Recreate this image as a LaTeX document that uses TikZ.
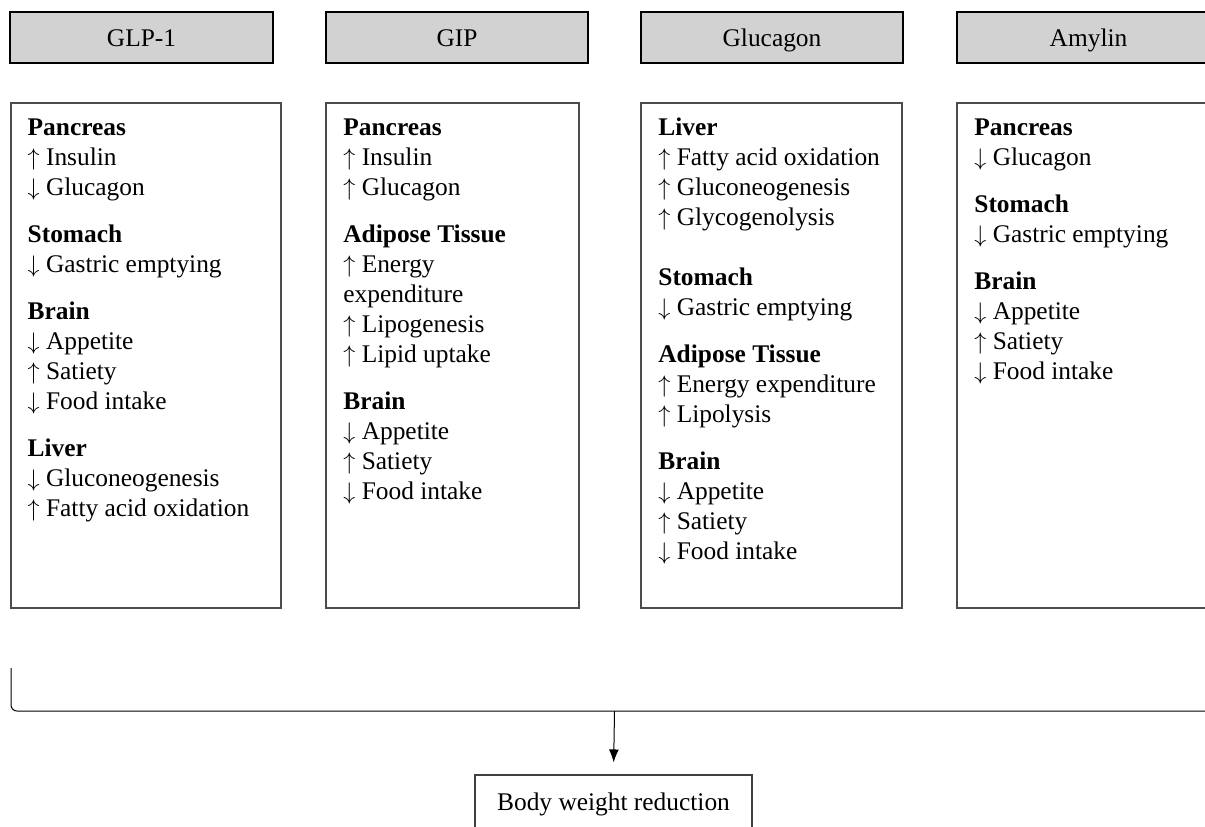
\documentclass[tikz,border=0pt]{standalone}
\usepackage{fontspec}
\setmainfont{Liberation Serif}
\usetikzlibrary{arrows.meta}
\newcommand{\uarr}{$\uparrow$}
\newcommand{\darr}{$\downarrow$}
\begin{document}
\begin{tikzpicture}[x=0.5pt,y=-0.5pt,
  hdr/.style={draw=black, line width=0.75pt, fill=gray!35, inner sep=0pt,
    minimum height=25.5pt, text height=8.5pt, text depth=0pt,
    font=\fontsize{12.7}{15}\selectfont},
  cbox/.style={draw=black!70, line width=0.55pt, inner sep=0pt, minimum height=252.5pt},
  txt/.style={inner sep=0pt, anchor=base west, font=\fontsize{12.7}{15}\selectfont},
  res/.style={draw=black!75, line width=0.55pt, inner sep=0pt, minimum width=138.5pt,
    minimum height=26.5pt, text height=8.5pt, text depth=0pt,
    font=\fontsize{12.7}{15}\selectfont},
  conn/.style={line width=0.5pt, black}
]
\useasboundingbox (0,0) rectangle (1205,826);

% header boxes
\node[hdr, minimum width=131.5pt] (h1) at (141.5,37.5) {GLP-1};
\node[hdr, minimum width=131pt]   (h2) at (457,37.5) {GIP};
\node[hdr, minimum width=131pt]   (h3) at (772,37.5) {Glucagon};
\node[hdr, minimum width=131.5pt] (h4) at (1088.5,37.5) {Amylin};

% content boxes
\node[cbox, minimum width=135pt]   (c1) at (146,355.5) {};
\node[cbox, minimum width=126.5pt] (c2) at (452.5,355.5) {};
\node[cbox, minimum width=130.5pt] (c3) at (771.5,355.5) {};
\node[cbox, minimum width=134pt]   (c4) at (1091,355.5) {};

% contents
\node[txt] (t1) at (27.3,135.7) {\parbox[t]{130pt}{%
\textbf{Pancreas}\\
\uarr{} Insulin\\
\darr{} Glucagon\\[8.5pt]
\textbf{Stomach}\\
\darr{} Gastric emptying\\[8.5pt]
\textbf{Brain}\\
\darr{} Appetite\\
\uarr{} Satiety\\
\darr{} Food intake\\[8.5pt]
\textbf{Liver}\\
\darr{} Gluconeogenesis\\
\uarr{} Fatty acid oxidation}};

\node[txt] (t2) at (343,135.7) {\parbox[t]{120pt}{%
\textbf{Pancreas}\\
\uarr{} Insulin\\
\uarr{} Glucagon\\[8.5pt]
\textbf{Adipose Tissue}\\
\uarr{} Energy\\
expenditure\\
\uarr{} Lipogenesis\\
\uarr{} Lipid uptake\\[8.5pt]
\textbf{Brain}\\
\darr{} Appetite\\
\uarr{} Satiety\\
\darr{} Food intake}};

\node[txt] (t3) at (658,135.7) {\parbox[t]{125pt}{%
\textbf{Liver}\\
\uarr{} Fatty acid oxidation\\
\uarr{} Gluconeogenesis\\
\uarr{} Glycogenolysis\\[15pt]
\textbf{Stomach}\\
\darr{} Gastric emptying\\[8.5pt]
\textbf{Adipose Tissue}\\
\uarr{} Energy expenditure\\
\uarr{} Lipolysis\\[8.5pt]
\textbf{Brain}\\
\darr{} Appetite\\
\uarr{} Satiety\\
\darr{} Food intake}};

\node[txt] (t4) at (974,135.7) {\parbox[t]{125pt}{%
\textbf{Pancreas}\\
\darr{} Glucagon\\[8.5pt]
\textbf{Stomach}\\
\darr{} Gastric emptying\\[8.5pt]
\textbf{Brain}\\
\darr{} Appetite\\
\uarr{} Satiety\\
\darr{} Food intake}};

% bracket
\coordinate (btop) at (11,668);
\coordinate (bmid) at (614.5,711);
\coordinate (bend) at (1215,711);
\draw[conn, rounded corners=3pt] (btop) |- (bend);

% result
\node[res] (r) at (613.5,801.5) {Body weight reduction};
\draw[conn, -{Latex[length=6.5pt,width=5pt]}, shorten >=6pt] (bmid) -- (r.north);
\end{tikzpicture}
\end{document}
